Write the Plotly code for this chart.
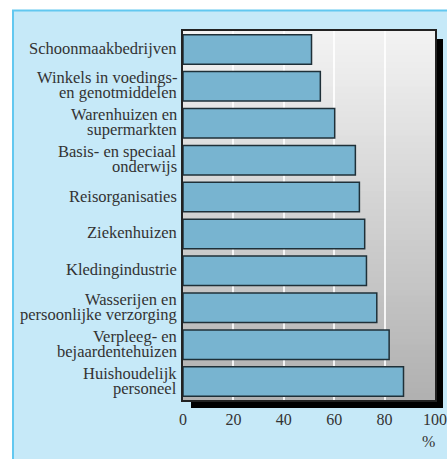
import plotly.graph_objects as go

categories = [
    "Schoonmaakbedrijven",
    "Winkels in voedings-<br>en genotmiddelen",
    "Warenhuizen en<br>supermarkten",
    "Basis- en speciaal<br>onderwijs",
    "Reisorganisaties",
    "Ziekenhuizen",
    "Kledingindustrie",
    "Wasserijen en<br>persoonlijke verzorging",
    "Verpleeg- en<br>bejaardentehuizen",
    "Huishoudelijk<br>personeel",
]
values = [51.0, 54.5, 60.2, 68.4, 70.0, 72.1, 72.8, 76.9, 81.8, 87.5]
x_ticks = [0, 20, 40, 60, 80, 100]
x_unit = "%"

W, H = 447, 459
PL, PR, PT, PB = 183, 435, 31, 400  # plot area pixel box
pw, ph = PR - PL, PB - PT

FONT = "Liberation Serif"
TXT = "#333333"

fig = go.Figure()
fig.add_trace(go.Bar(
    x=values, y=list(range(len(categories))), orientation="h",
    marker=dict(color="#78b4d0", line=dict(color="#1f3038", width=1.5)),
    hoverinfo="x",
))

shapes = []
# outer light-blue panel
shapes.append(dict(type="rect", xref="paper", yref="paper", layer="below",
                   x0=(13 - PL) / pw, x1=(470 - PL) / pw,
                   y0=(PB - 480) / ph, y1=(PB - 10.5) / ph,
                   fillcolor="#c6e9f8", line=dict(color="#62c8f0", width=2)))
# shadow
shapes.append(dict(type="rect", xref="x domain", yref="y domain", layer="below",
                   x0=8 / pw, x1=1 + 8 / pw, y0=-8 / ph, y1=1 - 8 / ph,
                   fillcolor="#000000", line=dict(width=0)))
# gradient background
n = 60
top = (243, 243, 243)
bot = (176, 176, 176)
for i in range(n):
    t = (i + 0.5) / n
    c = tuple(round(top[k] + (bot[k] - top[k]) * t) for k in range(3))
    shapes.append(dict(type="rect", xref="x domain", yref="y domain", layer="below",
                       x0=0, x1=1, y0=1 - (i + 1) / n - 0.002, y1=1 - i / n,
                       fillcolor="rgb(%d,%d,%d)" % c, line=dict(width=0)))

annotations = []
for i, cat in enumerate(categories):
    lines = cat.split("<br>")
    if len(lines) == 1:
        offs = [0]
    else:
        offs = [7.5, -7.5]
    for ln, off in zip(lines, offs):
        annotations.append(dict(text=ln, xref="paper", x=0, xanchor="right", xshift=-4,
                                yref="y", y=i, yanchor="middle", yshift=off + 1,
                                showarrow=False, font=dict(family=FONT, size=16.5, color=TXT)))
annotations.append(dict(text=x_unit, xref="paper", x=(428 - PL) / pw, xanchor="center",
                        yref="paper", y=(PB - 441) / ph, yanchor="middle",
                        showarrow=False, font=dict(family=FONT, size=16, color=TXT)))

fig.update_layout(
    width=W, height=H, autosize=False,
    margin=dict(l=PL, r=W - PR, t=PT, b=H - PB, pad=0, autoexpand=False),
    paper_bgcolor="white", plot_bgcolor="rgba(0,0,0,0)",
    font=dict(family=FONT, color=TXT),
    showlegend=False, bargap=0.2,
    shapes=shapes, annotations=annotations,
    xaxis=dict(range=[0, 100], tickvals=x_ticks, ticks="", showgrid=True,
               gridcolor="rgba(255,255,255,0.85)", gridwidth=1.5, zeroline=False, automargin=False,
               showline=True, linecolor="#222222", linewidth=1.5, mirror=True,
               tickfont=dict(family=FONT, size=16, color=TXT), ticklabelstandoff=4),
    yaxis=dict(range=[len(categories) - 0.5, -0.5], showticklabels=False, ticks="",
               showgrid=False, zeroline=False, automargin=False,
               showline=True, linecolor="#222222", linewidth=1.5, mirror=True),
)

fig.write_html("out.html", config={"displayModeBar": False},
               post_script="document.body.style.margin='0';")
